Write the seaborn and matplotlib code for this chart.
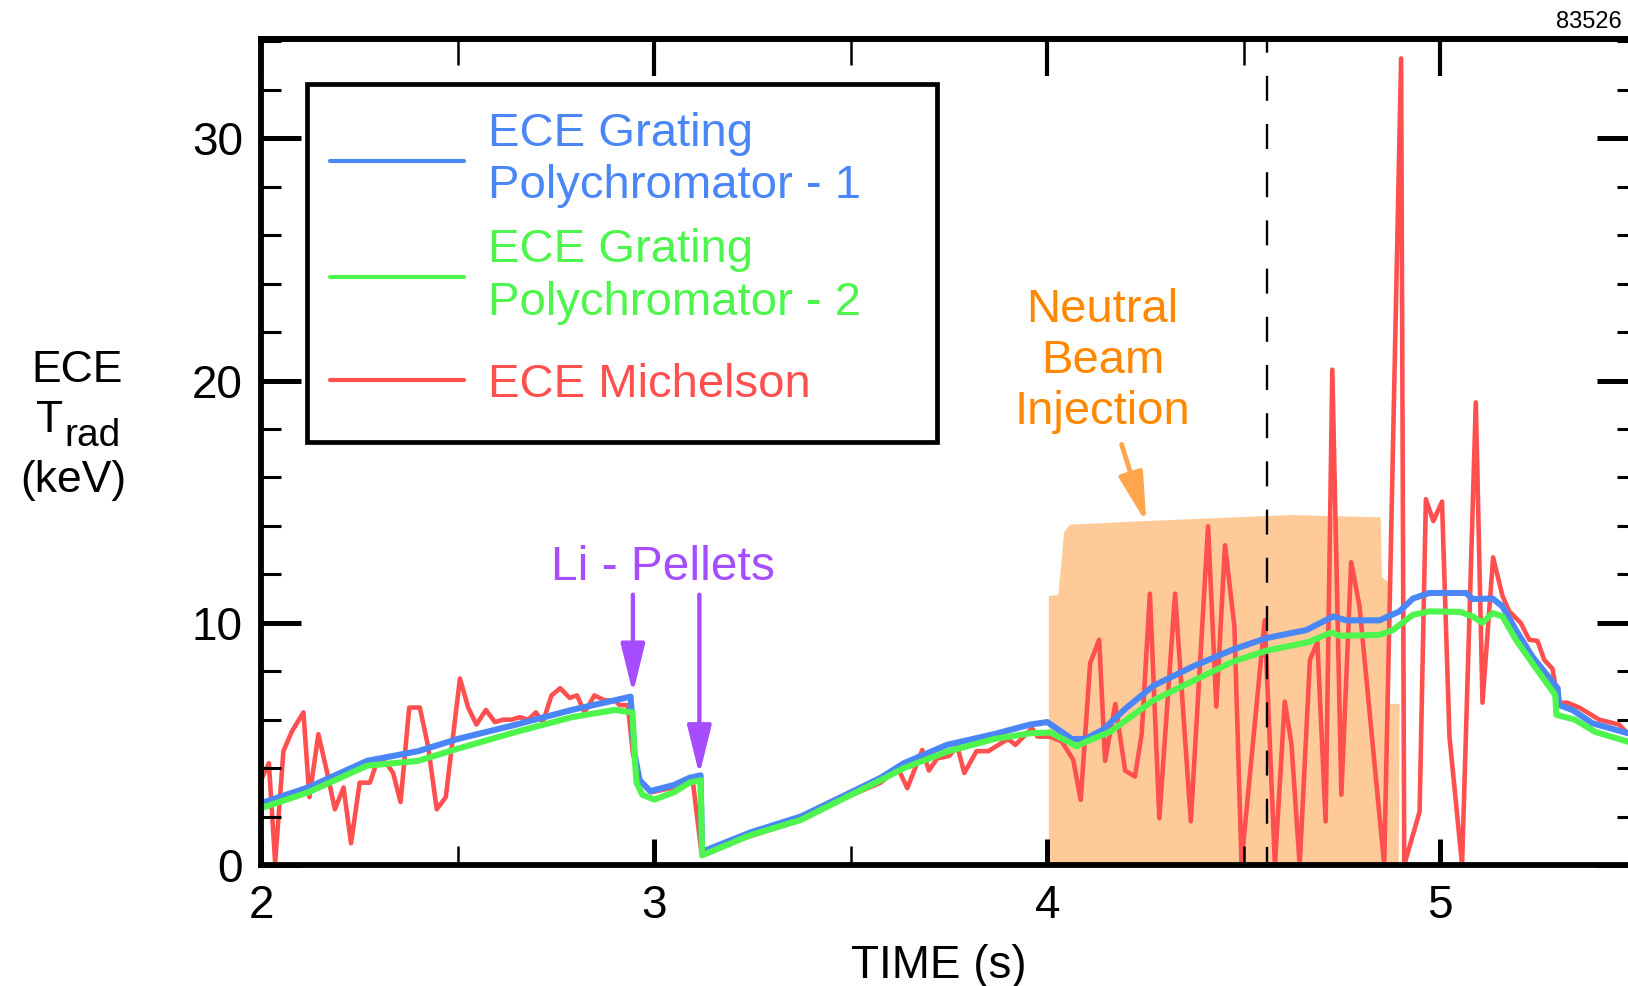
import numpy as np
import pandas as pd
import matplotlib
matplotlib.use("Agg")
import matplotlib.pyplot as plt
import seaborn as sns
from matplotlib.lines import Line2D
from matplotlib.patches import Rectangle
from matplotlib.ticker import MultipleLocator

# ECE Grating Polychromator - 1 (blue)
gp1_t = [2.00, 2.12, 2.27, 2.40, 2.50, 2.65, 2.79, 2.90, 2.94, 2.95, 2.963, 2.99, 3.05, 3.09,
         3.118, 3.122, 3.246, 3.373, 3.475, 3.576, 3.635, 3.745, 3.864, 3.957, 4.00, 4.063,
         4.096, 4.143, 4.202, 4.27, 4.371, 4.473, 4.558, 4.659, 4.727, 4.761, 4.845, 4.896,
         4.93, 4.972, 5.065, 5.082, 5.133, 5.158, 5.192, 5.234, 5.298, 5.302, 5.336, 5.387,
         5.475, 5.50]
gp1_te = [2.55, 3.2, 4.3, 4.7, 5.2, 5.8, 6.4, 6.8, 6.95, 4.6, 3.5, 3.05, 3.3, 3.6,
          3.7, 0.55, 1.35, 2.0, 2.8, 3.6, 4.2, 4.96, 5.4, 5.8, 5.9, 5.2,
          5.2, 5.6, 6.5, 7.4, 8.2, 8.9, 9.37, 9.7, 10.26, 10.1, 10.1, 10.47,
          11.0, 11.23, 11.23, 10.98, 11.0, 10.67, 9.7, 8.6, 7.3, 6.6, 6.4, 5.85,
          5.45, 5.35]

# ECE Grating Polychromator - 2 (green)
gp2_t = [2.00, 2.12, 2.27, 2.40, 2.50, 2.65, 2.79, 2.90, 2.945, 2.95, 2.955, 2.97, 3.00, 3.05,
         3.09, 3.118, 3.122, 3.246, 3.373, 3.475, 3.576, 3.635, 3.745, 3.864, 3.957, 4.008,
         4.075, 4.10, 4.16, 4.27, 4.371, 4.473, 4.558, 4.664, 4.723, 4.744, 4.845, 4.879,
         4.93, 4.972, 5.05, 5.082, 5.107, 5.133, 5.158, 5.192, 5.234, 5.292, 5.295, 5.342,
         5.393, 5.475, 5.50]
gp2_te = [2.35, 3.0, 4.1, 4.3, 4.8, 5.5, 6.1, 6.4, 6.3, 4.6, 3.4, 2.9, 2.7, 3.0,
          3.4, 3.5, 0.4, 1.24, 1.86, 2.69, 3.5, 4.0, 4.68, 5.2, 5.44, 5.47,
          4.9, 5.1, 5.5, 6.8, 7.6, 8.4, 8.85, 9.2, 9.6, 9.46, 9.5, 9.7,
          10.33, 10.47, 10.45, 10.26, 10.0, 10.4, 10.26, 9.3, 8.33, 7.02, 6.2, 6.0,
          5.5, 5.1, 5.0]

# ECE Michelson (red)
mich_t = [2.000, 2.020, 2.036, 2.057, 2.078, 2.108, 2.123, 2.146, 2.167, 2.188, 2.210, 2.229,
          2.251, 2.277, 2.298, 2.319, 2.336, 2.355, 2.377, 2.404, 2.425, 2.447, 2.470, 2.506,
          2.527, 2.548, 2.572, 2.595, 2.616, 2.637, 2.658, 2.680, 2.699, 2.717, 2.739, 2.761,
          2.785, 2.804, 2.823, 2.848, 2.874, 2.900, 2.912, 2.933, 2.946, 2.963, 2.992, 3.050,
          3.098, 3.120, 3.246, 3.373, 3.475, 3.576, 3.620, 3.644, 3.682, 3.699, 3.720, 3.750,
          3.771, 3.789, 3.820, 3.850, 3.870, 3.900, 3.919, 3.940, 3.961, 3.975, 4.007, 4.037,
          4.066, 4.085, 4.109, 4.132, 4.147, 4.173, 4.198, 4.223, 4.240, 4.261, 4.285, 4.325,
          4.365, 4.409, 4.430, 4.452, 4.476, 4.494, 4.553, 4.579, 4.604, 4.621, 4.642, 4.668,
          4.687, 4.708, 4.725, 4.748, 4.773, 4.794, 4.857, 4.900, 4.908, 4.947, 4.963, 4.982,
          5.004, 5.023, 5.055, 5.090, 5.107, 5.134, 5.158, 5.175, 5.204, 5.226, 5.247, 5.264,
          5.285, 5.300, 5.323, 5.353, 5.404, 5.454, 5.475, 5.500]
mich_te = [3.5, 4.2, 0.1, 4.7, 5.5, 6.3, 2.8, 5.4, 3.9, 2.3, 3.2, 0.9,
           3.4, 3.4, 4.4, 4.2, 3.8, 2.6, 6.5, 6.5, 4.9, 2.3, 2.8, 7.7,
           6.5, 5.8, 6.4, 5.9, 6.0, 6.0, 6.1, 6.0, 6.3, 5.9, 7.0, 7.3,
           6.9, 7.0, 6.3, 7.0, 6.8, 6.8, 6.6, 6.6, 4.6, 3.5, 3.0, 3.2,
           3.5, 0.55, 1.2, 1.85, 2.7, 3.4, 4.0, 3.17, 4.75, 3.9, 4.4, 4.5,
           4.9, 3.8, 4.7, 4.7, 4.9, 5.2, 4.96, 5.3, 5.65, 5.3, 5.3, 5.1,
           4.34, 2.69, 8.33, 9.3, 4.3, 6.65, 3.9, 3.65, 5.4, 11.2, 1.93, 11.2,
           1.8, 13.98, 6.54, 13.2, 9.85, 0.1, 10.1, 0.0, 6.75, 5.0, 0.0, 8.47,
           9.2, 1.8, 20.45, 2.9, 12.5, 10.7, 0.0, 33.3, 0.0, 2.2, 15.1, 14.2,
           15.0, 5.3, 0.0, 19.1, 6.7, 12.7, 11.1, 10.47, 10.0, 9.3, 9.25, 8.47,
           8.1, 6.7, 6.7, 6.5, 6.0, 5.8, 5.45, 5.3]

# neutral beam injection envelope
nbi_t = [4.004, 4.004, 4.028, 4.043, 4.058, 4.25, 4.62, 4.848, 4.851, 4.868, 4.872, 4.896, 4.894]
nbi_p = [0.0, 11.1, 11.15, 13.75, 14.05, 14.2, 14.45, 14.35, 11.9, 11.65, 6.65, 6.65, 0.0]

# annotations
pellet_t = [2.946, 3.115]
pellet_tip = [7.09, 3.72]
pellet_start = 11.16
nbi_arrow = [(4.189, 17.36), (4.252, 14.12)]
shot_time = 4.56

labels = ["ECE Grating\nPolychromator - 1", "ECE Grating\nPolychromator - 2", "ECE Michelson"]
BLUE, GREEN, RED = "#4a86f5", "#4df54d", "#ff4f4f"
PURPLE, ORANGE, LIGHT_ORANGE, FILL = "#a64dff", "#ff8800", "#ffa64d", "#fecb98"

sns.set_style("ticks")
plt.rcParams["font.family"] = ["Liberation Sans", "DejaVu Sans"]
plt.rcParams["lines.scale_dashes"] = False
for key in ["text.color", "axes.edgecolor", "axes.labelcolor", "xtick.color", "ytick.color"]:
    plt.rcParams[key] = "black"

W, H = 1628, 986
PX = 72 / 100  # points per pixel
fig = plt.figure(figsize=(16.28, 9.86), dpi=100)
ax = fig.add_axes([261 / W, 1 - 865 / H, (1637 - 261) / W, (865 - 39) / H])

ax.fill(nbi_t, nbi_p, color=FILL, lw=0, zorder=1)
sns.lineplot(x=mich_t, y=mich_te, ax=ax, color=RED, linewidth=3.3,
             estimator=None, sort=False, legend=False)
sns.lineplot(x=gp1_t, y=gp1_te, ax=ax, color=BLUE, linewidth=4.4,
             estimator=None, sort=False, legend=False)
sns.lineplot(x=gp2_t, y=gp2_te, ax=ax, color=GREEN, linewidth=4.4,
             estimator=None, sort=False, legend=False)
ax.axvline(shot_time, color="black", lw=1.7, ls=(5, (18, 16.7)), zorder=3)

ax.set_xlim(2, 5.5)
ax.set_ylim(0, 34.1)
ax.set_xlabel("")
ax.set_ylabel("")
ax.set_axisbelow(False)

ax.set_xticks([2, 3, 4, 5])
ax.xaxis.set_minor_locator(MultipleLocator(0.5))
ax.set_yticks([0, 10, 20, 30])
ax.yaxis.set_minor_locator(MultipleLocator(2))
ax.tick_params(axis="x", which="major", direction="in", length=26 * PX, width=3.6,
               top=False, bottom=True, labelsize=33, pad=14)
ax.tick_params(axis="x", which="minor", direction="in", length=19 * PX, width=1.8,
               top=False, bottom=True)
ax.tick_params(axis="y", which="major", direction="in", length=40 * PX, width=3.6,
               left=True, right=True, labelsize=33, pad=13)
ax.tick_params(axis="y", which="minor", direction="in", length=20 * PX, width=2.2,
               left=True, right=True)
for side in ["left", "right", "top", "bottom"]:
    ax.spines[side].set_linewidth(4.2)
    ax.spines[side].set_visible(True)

secax = ax.secondary_xaxis("top")
secax.set_xticks([2, 3, 4, 5])
secax.set_xticks([2.5, 3.5, 4.5], minor=True)
secax.tick_params(which="major", direction="in", length=37 * PX, width=3.0, labeltop=False)
secax.tick_params(which="minor", direction="in", length=26 * PX, width=1.8, labeltop=False)
secax.spines["top"].set_linewidth(4.2)

# Li pellets
ax.text(3.022, 11.78, "Li - Pellets", ha="center", va="baseline", fontsize=34.5, color=PURPLE)
for t, tip in zip(pellet_t, pellet_tip):
    ax.annotate("", xy=(t, tip), xytext=(t, pellet_start),
                arrowprops=dict(arrowstyle="-|>,head_length=1.5,head_width=0.37",
                                mutation_scale=20, lw=3.1, color=PURPLE,
                                shrinkA=0, shrinkB=0))

# neutral beam
ax.text(4.14, 23.8, "Neutral\nBeam\nInjection", ha="center", va="top",
        fontsize=34, color=ORANGE, linespacing=1.2)
ax.annotate("", xy=nbi_arrow[1], xytext=nbi_arrow[0],
            arrowprops=dict(arrowstyle="-|>,head_length=1.5,head_width=0.37",
                            mutation_scale=20, lw=3.5, color=LIGHT_ORANGE,
                            shrinkA=0, shrinkB=0))

# legend: frame plus two stacked legends (the single-line entry sits lower)
ax.add_patch(Rectangle((306.7 / W, 1 - 441.7 / H), (936.6 - 306.7) / W, (441.7 - 84.3) / H,
                       transform=fig.transFigure, facecolor="white", edgecolor="black",
                       lw=3.4, zorder=4, clip_on=False))
handles = [Line2D([], [], color=c, lw=3.0) for c in (BLUE, GREEN, RED)]
leg_kw = dict(loc="upper left", bbox_transform=fig.transFigure, borderaxespad=0,
              fontsize=34, frameon=False, borderpad=0.5, handlelength=2.84,
              handletextpad=0.5)
leg_a = ax.legend(handles[:2], labels[:2], bbox_to_anchor=(306.7 / W, 1 - 88.3 / H),
                  labelspacing=0.42, **leg_kw)
for txt, c in zip(leg_a.get_texts(), (BLUE, GREEN)):
    txt.set_color(c)
    txt.set_linespacing(1.25)
ax.add_artist(leg_a)
leg_b = ax.legend(handles[2:], labels[2:], bbox_to_anchor=(306.7 / W, 1 - 339.2 / H), **leg_kw)
leg_b.get_texts()[0].set_color(RED)

# axis titles
fig.text(77 / W, 1 - 381.7 / H, "ECE", ha="center", va="baseline", fontsize=32)
fig.text(63.5 / W, 1 - 431.7 / H, "T", ha="right", va="baseline", fontsize=32)
fig.text(64 / W, 1 - 446 / H, "rad", ha="left", va="baseline", fontsize=28)
fig.text(73 / W, 1 - 492 / H, "(keV)", ha="center", va="baseline", fontsize=32)
fig.text(938.6 / W, 1 - 978 / H, "TIME (s)", ha="center", va="baseline", fontsize=33)
fig.text(1622 / W, 1 - 28.3 / H, "83526", ha="right", va="baseline", fontsize=17)

fig.savefig("out.png", dpi=100)
